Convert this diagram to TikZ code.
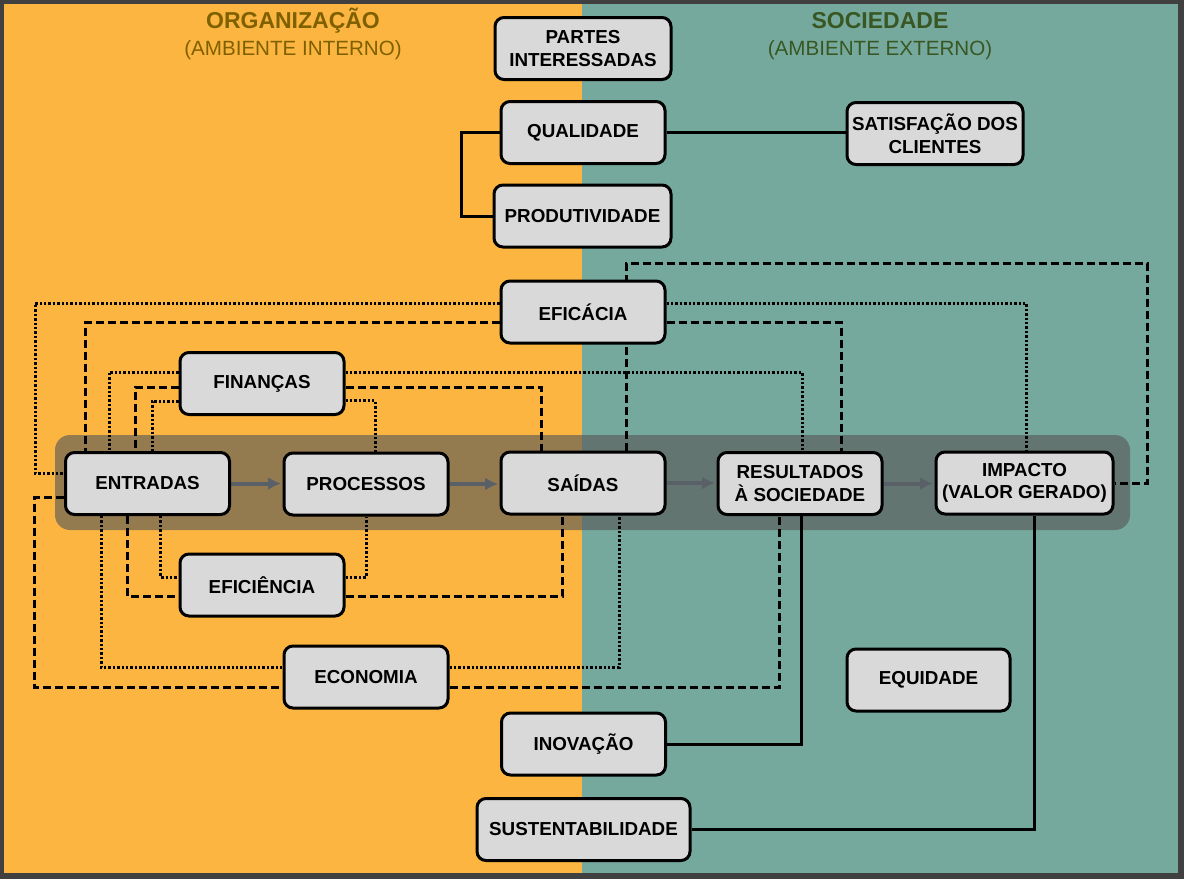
\documentclass[tikz,border=0pt]{standalone}
\usepackage{fontspec}
\setmainfont{Liberation Sans}
\usepackage{tikz}
\usetikzlibrary{calc}
\usetikzlibrary{positioning}
\usetikzlibrary{arrows.meta}
\definecolor{laranja}{RGB}{251,181,64}
\definecolor{verdeagua}{RGB}{118,169,157}
\definecolor{moldura}{RGB}{64,64,64}
\definecolor{cinza}{RGB}{217,217,217}
\definecolor{marrom}{RGB}{127,96,0}
\definecolor{verdeesc}{RGB}{56,87,35}
\definecolor{setacor}{RGB}{90,96,104}
\definecolor{faixa}{RGB}{88,88,88}
\pgfdeclarelayer{fundo}
\pgfdeclarelayer{linhas}
\pgfsetlayers{fundo,linhas,main}
\tikzstyle{caixa}=[%
  draw,
  line width=3pt,
  rounded corners=9pt,
  fill=cinza,
  minimum height=62pt,
  minimum width=164pt,
  inner sep=2pt,
  align=center,
  font=\fontsize{18.8}{22.5}\selectfont\bfseries
]
\tikzstyle{tracejado}=[line width=3pt, dash pattern=on 8pt off 4pt]
\tikzstyle{pontilhado}=[line width=3pt, dash pattern=on 2.4pt off 2pt]
\tikzstyle{continuo}=[line width=3pt]
\tikzstyle{seta}=[line width=4pt, setacor, shorten >=1.5pt, -{Latex[length=13pt,width=13pt]}]

\begin{document}
\begin{tikzpicture}[x=1pt, y=-1pt]
    \useasboundingbox (0,0) rectangle (1184,879);
    \begin{pgfonlayer}{fundo}
      \fill[moldura] (0,0) rectangle (1184,879);
      \fill[laranja] (4,4) rectangle (582,873);
      \fill[verdeagua] (582,4) rectangle (1178,873);
      \fill[faixa, opacity=0.63, rounded corners=15pt] (55,435) rectangle (1130,530);
    \end{pgfonlayer}

    \node[anchor=base, marrom, font=\fontsize{23}{27}\selectfont\bfseries] (tituloorg) at (293,28) {ORGANIZAÇÃO};
    \node[anchor=base, marrom, font=\fontsize{20.6}{24}\selectfont] (subtorg) at (293,55) {(AMBIENTE INTERNO)};
    \node[anchor=base, verdeesc, font=\fontsize{23}{27}\selectfont\bfseries] (titulosoc) at (880,28) {SOCIEDADE};
    \node[anchor=base, verdeesc, font=\fontsize{20.6}{24}\selectfont] (subtsoc) at (880,55) {(AMBIENTE EXTERNO)};

    \node[caixa, minimum width=176pt] (partes) at (583,48.5) {PARTES\\INTERESSADAS};
    \node[caixa] (qualidade) at (583,132.5) {QUALIDADE};
    \node[caixa, minimum width=177pt] (produtividade) at (582.5,216) {PRODUTIVIDADE};
    \node[caixa, minimum width=176pt] (satisfacao) at (935,133.5) {SATISFAÇÃO DOS\\CLIENTES};
    \node[caixa] (eficacia) at (583,312) {EFICÁCIA};
    \node[caixa] (financas) at (262,383.5) {FINANÇAS};
    \node[caixa] (entradas) at (147.5,483.5) {ENTRADAS};
    \node[caixa] (processos) at (366,484) {PROCESSOS};
    \node[caixa] (saidas) at (583,483) {SAÍDAS};
    \node[caixa] (resultados) at (800,483.5) {RESULTADOS\\À SOCIEDADE};
    \node[caixa, minimum width=177pt] (impacto) at (1024.5,483) {IMPACTO\\(VALOR GERADO)};
    \node[caixa] (eficiencia) at (262,585) {EFICIÊNCIA};
    \node[caixa] (economia) at (366,677) {ECONOMIA};
    \node[caixa, minimum width=163pt] (equidade) at (928.5,680) {EQUIDADE};
    \node[caixa] (inovacao) at (583.5,744) {INOVAÇÃO};
    \node[caixa, minimum width=213pt] (sustentabilidade) at (583.5,829.5) {SUSTENTABILIDADE};

    \begin{pgfonlayer}{linhas}
      \foreach \a/\b in {entradas/processos, processos/saidas, saidas/resultados, resultados/impacto} {%
        \draw[seta] (\a.east) -- (\a.east -| \b.west);
      }

      \draw[continuo] (qualidade.west) -- ++(-38,0) |- (produtividade.west);
      \draw[continuo] (qualidade.east) -- (qualidade.east -| satisfacao.west);
      \draw[continuo] ([xshift=1pt]resultados.south) |- (inovacao.east);
      \draw[continuo] ([xshift=9.5pt]impacto.south) |- (sustentabilidade.east);

      \draw[pontilhado] ([yshift=9pt]eficacia.west) -- (35,303) |- ([yshift=10.5pt]entradas.west);
      \draw[tracejado] ([yshift=-10pt]eficacia.west) -| ([xshift=-62.5pt]entradas.north);
      \draw[pontilhado] ([yshift=9pt]eficacia.east) -| ([xshift=1.5pt]impacto.north);
      \draw[tracejado] ([yshift=-10pt]eficacia.east) -| ([xshift=41pt]resultados.north);
      \draw[tracejado] ([xshift=43pt]saidas.north) |- (1147,263) |- (impacto.east);

      \draw[pontilhado] ([yshift=11.5pt]financas.west) -| ([xshift=-38.5pt]entradas.north);
      \draw[tracejado] ([yshift=-3.5pt]financas.west) -| ([xshift=-12.5pt]entradas.north);
      \draw[pontilhado] ([yshift=-17.5pt]financas.west) -| ([xshift=4.5pt]entradas.north);
      \draw[pontilhado] ([yshift=11.5pt]financas.east) -| ([xshift=2pt]resultados.north);
      \draw[tracejado] ([yshift=-3.5pt]financas.east) -| ([xshift=-42pt]saidas.north);
      \draw[pontilhado] ([yshift=-17pt]financas.east) -| ([xshift=9pt]processos.north);

      \draw[pontilhado] ([xshift=13pt]entradas.south) |- ([yshift=8pt]eficiencia.west);
      \draw[pontilhado] ([yshift=8pt]eficiencia.east) -| (processos.south);
      \draw[tracejado] ([xshift=-20.5pt]entradas.south) |- ([yshift=-11pt]eficiencia.west);
      \draw[tracejado] ([yshift=-11pt]eficiencia.east) -| ([xshift=-21pt]saidas.south);

      \draw[pontilhado] ([xshift=-46.5pt]entradas.south) |- ([yshift=10pt]economia.west);
      \draw[pontilhado] ([yshift=10pt]economia.east) -| ([xshift=36pt]saidas.south);
      \draw[tracejado] ([yshift=-13.5pt]entradas.west) -- (34.5,497) |- ([yshift=-10pt]economia.west);
      \draw[tracejado] ([yshift=-10pt]economia.east) -| ([xshift=-21pt]resultados.south);
    \end{pgfonlayer}
  \end{tikzpicture}
\end{document}
